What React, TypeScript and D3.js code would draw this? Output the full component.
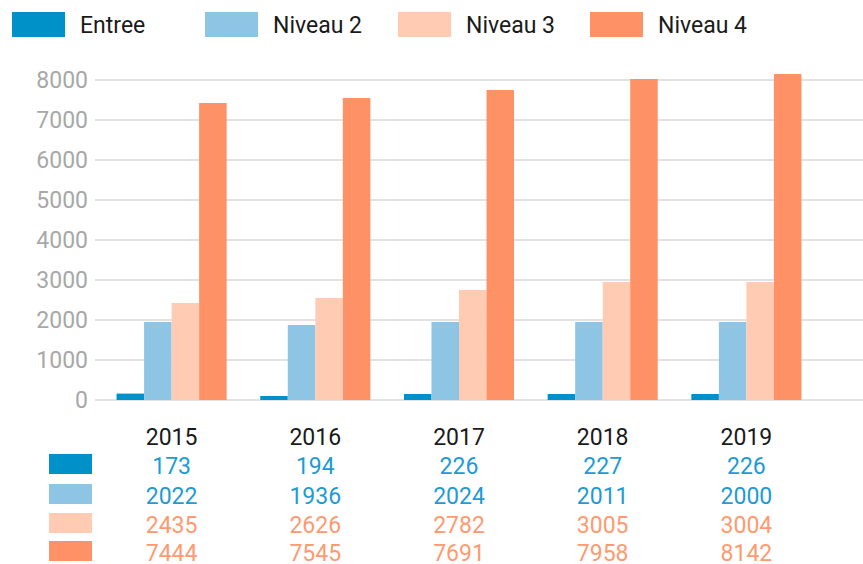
import { useEffect, useRef } from 'react';
import * as d3 from 'd3';

const years = ['2015', '2016', '2017', '2018', '2019'];
const series = ['Entree', 'Niveau 2', 'Niveau 3', 'Niveau 4'];
const colors = ['#0091c8', '#8ec5e4', '#ffccb3', '#ff9166'];
const textColors = ['#1e9bd3', '#1e9bd3', '#ff9a70', '#ff9a70'];

// bar heights as drawn
const entreeBars = [160, 100, 150, 150, 150];
const niveau2Bars = [1950, 1875, 1950, 1950, 1950];
const niveau3Bars = [2425, 2550, 2750, 2950, 2950];
const niveau4Bars = [7425, 7550, 7750, 8025, 8150];

// values printed in the table below
const entreeTable = [173, 194, 226, 227, 226];
const niveau2Table = [2022, 1936, 2024, 2011, 2000];
const niveau3Table = [2435, 2626, 2782, 3005, 3004];
const niveau4Table = [7444, 7545, 7691, 7958, 8142];

const yTicks = [0, 1000, 2000, 3000, 4000, 5000, 6000, 7000, 8000];

const FONT = 'Roboto, sans-serif';

const App = () => {
  const svgRef = useRef(null);

  useEffect(() => {
    const width = 863;
    const height = 564;
    const svg = d3.select(svgRef.current);
    svg.selectAll('*').remove();
    svg.attr('width', width).attr('height', height).style('display', 'block');

    const bars = [entreeBars, niveau2Bars, niveau3Bars, niveau4Bars];
    const table = [entreeTable, niveau2Table, niveau3Table, niveau4Table];

    const x = d3.scaleBand().domain(years).range([95, 823]).paddingInner(0.234).paddingOuter(0.15);
    const x1 = d3.scaleBand().domain(series).range([0, x.bandwidth()]);
    const y = d3.scaleLinear().domain([0, 8000]).range([400, 80]);

    // legend
    const legend = svg.append('g');
    const legendX = [12, 205, 398, 590];
    series.forEach((s, i) => {
      legend.append('rect')
        .attr('x', legendX[i]).attr('y', 12)
        .attr('width', 53).attr('height', 25)
        .attr('fill', colors[i]);
      legend.append('text')
        .attr('x', legendX[i] + 68).attr('y', 33)
        .style('font-family', FONT).style('font-size', '23px')
        .attr('fill', '#1a1a1a')
        .text(s);
    });

    // grid + y labels
    svg.append('g')
      .selectAll('line')
      .data(yTicks)
      .enter()
      .append('line')
      .attr('x1', 95).attr('x2', 863)
      .attr('y1', (d) => y(d)).attr('y2', (d) => y(d))
      .attr('stroke', '#d9d9d9').attr('stroke-width', 1.5);

    svg.append('g')
      .selectAll('text')
      .data(yTicks)
      .enter()
      .append('text')
      .attr('x', 88).attr('y', (d) => y(d)).attr('dy', '0.36em')
      .attr('text-anchor', 'end')
      .style('font-family', FONT).style('font-size', '23px')
      .attr('fill', '#a8a8a8')
      .text((d) => d);

    // bars
    const groups = svg.append('g')
      .selectAll('g')
      .data(years)
      .enter()
      .append('g')
      .attr('transform', (d) => `translate(${x(d)},0)`);

    groups.selectAll('rect')
      .data((d, i) => series.map((s, k) => ({ s, k, v: bars[k][i] })))
      .enter()
      .append('rect')
      .attr('x', (d) => x1(d.s))
      .attr('width', x1.bandwidth())
      .attr('y', (d) => y(d.v))
      .attr('height', (d) => y(0) - y(d.v))
      .attr('fill', (d) => colors[d.k]);

    // table
    const tbl = svg.append('g').style('font-family', FONT).style('font-size', '23px');
    years.forEach((yr) => {
      tbl.append('text')
        .attr('x', x(yr) + x.bandwidth() / 2).attr('y', 445)
        .attr('text-anchor', 'middle')
        .attr('fill', '#1a1a1a')
        .text(yr);
    });
    const rowTop = [454, 484, 513, 541];
    series.forEach((s, k) => {
      tbl.append('rect')
        .attr('x', 49).attr('y', rowTop[k])
        .attr('width', 43).attr('height', 20)
        .attr('fill', colors[k]);
      years.forEach((yr, i) => {
        tbl.append('text')
          .attr('x', x(yr) + x.bandwidth() / 2).attr('y', rowTop[k] + 20)
          .attr('text-anchor', 'middle')
          .attr('fill', textColors[k])
          .text(table[k][i]);
      });
    });
  }, []);

  return (
    <div style={{ position: 'absolute', left: 0, top: 0 }}>
      <svg ref={svgRef}></svg>
    </div>
  );
};

export default App;
